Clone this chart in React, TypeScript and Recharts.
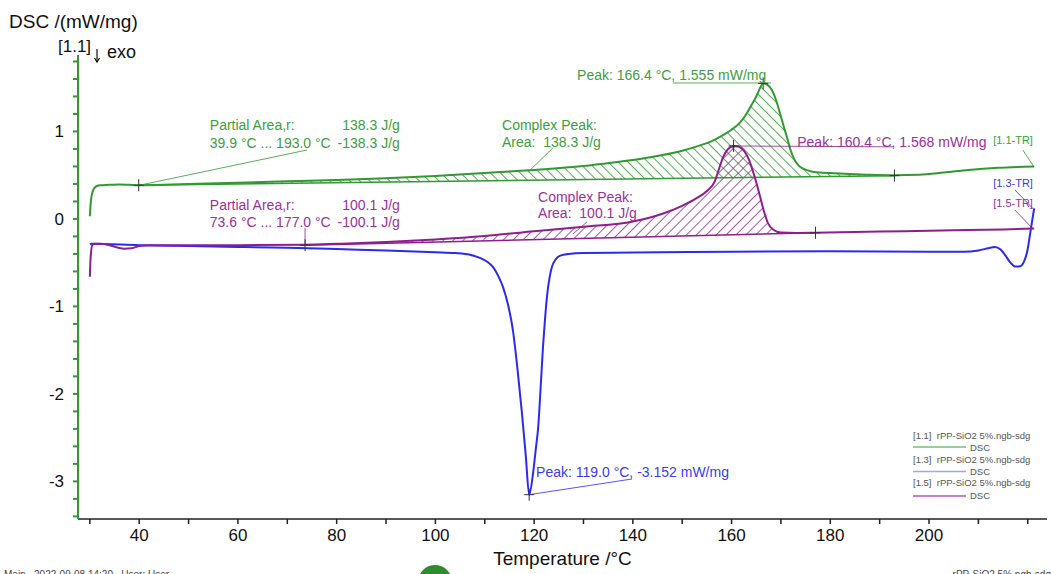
import {
  ComposedChart,
  Line,
  Area,
  XAxis,
  YAxis,
  ReferenceLine,
  ReferenceDot
} from "recharts";

const FONT = '"Liberation Sans", Arial, Helvetica, sans-serif';

const GREEN = "#2f9a2f";
const GREEN_TXT = "#3d9e3d";
const BLUE = "#2a2af0";
const BLUE_TXT = "#3b3bf0";
const PURPLE = "#8e1e8e";
const PURPLE_TXT = "#9c309c";

// [temperature °C, DSC mW/mg]
const greenCurve: [number, number][] = [
  [30.0, 0.03], [30.2, 0.2], [30.6, 0.32], [31.2, 0.37], [32, 0.385],
  [34, 0.39], [36, 0.395], [38, 0.39], [40, 0.385], [45, 0.39],
  [50, 0.4], [60, 0.415], [70, 0.43], [80, 0.445], [90, 0.465],
  [100, 0.49], [110, 0.525], [120, 0.56], [130, 0.605], [136, 0.645],
  [142, 0.69], [146, 0.73], [150, 0.78], [153, 0.83], [156, 0.89],
  [158, 0.95], [160, 1.02], [161.7, 1.1], [163, 1.2], [164, 1.3],
  [165, 1.4], [165.8, 1.5], [166.4, 1.55], [167.2, 1.535], [168.2, 1.47],
  [169, 1.36], [169.8, 1.21], [170.5, 1.07], [171.2, 0.94], [172, 0.78],
  [172.8, 0.67], [173.6, 0.61], [174.5, 0.575], [176, 0.545], [178, 0.53],
  [182, 0.52], [188, 0.505], [193, 0.5], [198, 0.505], [203, 0.53],
  [208, 0.56], [214, 0.585], [221.3, 0.6]
];

const purpleCurve: [number, number][] = [
  [30.0, -0.66], [30.15, -0.45], [30.5, -0.3], [31, -0.285], [32, -0.285],
  [34, -0.3], [35.5, -0.325], [37, -0.34], [38.5, -0.335], [40, -0.31],
  [42, -0.3], [50, -0.3], [60, -0.3], [73.6, -0.295], [80, -0.285],
  [90, -0.265], [100, -0.235], [110, -0.195], [120, -0.14], [130, -0.09],
  [140, -0.03], [146, 0.06], [150, 0.15], [153, 0.24], [155, 0.32],
  [156.6, 0.43], [157.5, 0.58], [158.3, 0.71], [159.3, 0.8], [160.4, 0.834],
  [161.5, 0.825], [162.5, 0.78], [163.5, 0.68], [164.3, 0.55], [165, 0.42],
  [165.8, 0.25], [166.6, 0.08], [167.4, -0.05], [168.4, -0.12], [170, -0.155],
  [173, -0.16], [177, -0.158], [185, -0.15], [195, -0.14], [205, -0.13],
  [215, -0.12], [221.3, -0.11]
];

const blueCurve: [number, number][] = [
  [30.0, -0.29], [30.3, -0.285], [40, -0.3], [50, -0.31], [60, -0.32],
  [70, -0.33], [80, -0.345], [90, -0.36], [100, -0.38], [104, -0.39],
  [107, -0.41], [109, -0.445], [110.5, -0.49], [111.7, -0.55], [112.8, -0.66],
  [113.7, -0.78], [114.8, -1.0], [115.7, -1.27], [116.6, -1.7], [117.5, -2.2],
  [118.3, -2.7], [119.0, -3.152], [119.8, -2.9], [120.4, -2.6], [120.8, -2.4],
  [121.3, -1.95], [121.8, -1.46], [122.2, -1.15], [122.6, -0.89], [123.1, -0.68],
  [123.6, -0.55], [124.4, -0.46], [125.3, -0.42], [127, -0.4], [130, -0.39],
  [140, -0.385], [160, -0.375], [180, -0.37], [200, -0.375], [207, -0.375],
  [210, -0.36], [212, -0.335], [213.3, -0.32], [214.5, -0.35], [215.5, -0.42],
  [216.5, -0.5], [217.5, -0.545], [218.5, -0.54], [219.3, -0.48], [219.9, -0.37],
  [220.4, -0.2], [220.9, -0.02], [221.3, 0.12]
];

// integration baselines (start, end)
const greenBase: [number, number][] = [[39.9, 0.385], [193.0, 0.495]];
const purpleBase: [number, number][] = [[73.6, -0.3], [177.0, -0.158]];

const peakMarks: [number, number][] = [[166.4, 1.55], [160.4, 0.834], [119.0, -3.152]];

const xTicks = [30, 40, 50, 60, 70, 80, 90, 100, 110, 120, 130, 140, 150, 160, 170, 180, 190, 200, 210, 220];
const xLabels = [40, 60, 80, 100, 120, 140, 160, 180, 200];
const yLabels = [-3, -2, -1, 0, 1];
const yTicks = Array.from({ length: 27 }, (_, i) => +(-3.4 + i * 0.2).toFixed(1));

const rows = (pts: [number, number][]) => pts.map(([t, v]) => ({ t, v }));

function hatchRows(curve: [number, number][], base: [number, number][]) {
  const [[t0, b0], [t1, b1]] = base;
  const lo = (t: number) => b0 + ((b1 - b0) * (t - t0)) / (t1 - t0);
  const inner = curve
    .filter(([t]) => t > t0 && t < t1)
    .map(([t, v]) => ({ t, range: [lo(t), Math.max(v, lo(t))] }));
  return [{ t: t0, range: [b0, b0] }, ...inner, { t: t1, range: [b1, b1] }];
}

type Note = {
  t: number;
  v: number;
  lines: string[];
  color: string;
  size?: number;
  anchor?: "start" | "end";
  lh?: number;
};

const notes: Note[] = [
  { t: 54.3, v: 1.017, lines: ["Partial Area,r:", "39.9 °C ... 193.0 °C"], color: GREEN_TXT, lh: 18 },
  { t: 92.8, v: 1.017, lines: ["138.3 J/g", "-138.3 J/g"], color: GREEN_TXT, anchor: "end", lh: 18 },
  { t: 113.5, v: 1.017, lines: ["Complex Peak:", "Area:  138.3 J/g"], color: GREEN_TXT, lh: 17 },
  { t: 128.7, v: 1.588, lines: ["Peak: 166.4 °C, 1.555 mW/mg"], color: GREEN_TXT },
  { t: 173.3, v: 0.822, lines: ["Peak: 160.4 °C, 1.568 mW/mg"], color: PURPLE_TXT },
  { t: 213.0, v: 0.857, lines: ["[1.1-TR]"], color: GREEN_TXT, size: 11 },
  { t: 54.3, v: 0.102, lines: ["Partial Area,r:", "73.6 °C ... 177.0 °C"], color: PURPLE_TXT, lh: 17 },
  { t: 92.8, v: 0.102, lines: ["100.1 J/g", "-100.1 J/g"], color: PURPLE_TXT, anchor: "end", lh: 17 },
  { t: 120.8, v: 0.194, lines: ["Complex Peak:", "Area:  100.1 J/g"], color: PURPLE_TXT, lh: 16 },
  { t: 120.4, v: -2.95, lines: ["Peak: 119.0 °C, -3.152 mW/mg"], color: BLUE_TXT },
  { t: 213.0, v: 0.365, lines: ["[1.3-TR]"], color: BLUE_TXT, size: 11 },
  { t: 213.0, v: 0.136, lines: ["[1.5-TR]"], color: PURPLE_TXT, size: 11 }
];

// leader lines [from, to, colour]
const leaders: [[number, number], [number, number], string][] = [
  [[40, 0.385], [74.0, 0.788], GREEN],
  [[118.8, 0.537], [123.8, 0.811], GREEN],
  [[148.1, 1.554], [168.0, 1.554], GREEN],
  [[219.0, 0.788], [221.2, 0.6], GREEN],
  [[160.4, 0.834], [192.7, 0.824], PURPLE],
  [[73.6, -0.3], [73.6, -0.104], PURPLE],
  [[130.7, -0.035], [127.9, -0.17], PURPLE],
  [[217.4, 0.331], [221.2, 0.11], BLUE],
  [[217.4, 0.102], [221.0, -0.11], PURPLE],
  [[119.0, -3.152], [139.8, -2.973], BLUE]
];

const Cross = (p: any) => (
  <g stroke="#333" strokeWidth={1}>
    <line x1={p.cx - 5} x2={p.cx + 5} y1={p.cy} y2={p.cy} />
    <line x1={p.cx} x2={p.cx} y1={p.cy - 6} y2={p.cy + 6} />
  </g>
);

const noteShape = (n: Note) => (p: any) => (
  <text
    x={p.cx}
    y={p.cy}
    fill={n.color}
    fontSize={n.size ?? 14}
    fontFamily={FONT}
    textAnchor={n.anchor ?? "start"}
    style={{ whiteSpace: "pre" }}
  >
    {n.lines.map((l, i) => (
      <tspan key={i} x={p.cx} dy={i === 0 ? 0 : n.lh ?? 17}>
        {l}
      </tspan>
    ))}
  </text>
);

const legendRows = [
  { label: "[1.1]  rPP-SiO2 5%.ngb-sdg", color: "#72c272" },
  { label: "[1.3]  rPP-SiO2 5%.ngb-sdg", color: "#a3a3f7" },
  { label: "[1.5]  rPP-SiO2 5%.ngb-sdg", color: "#b455b4" }
];

export default function App() {
  return (
    <div
      style={{
        position: "absolute",
        left: 0,
        top: 0,
        width: 1051,
        height: 574,
        overflow: "hidden",
        background: "#fff",
        fontFamily: FONT
      }}
    >
      <ComposedChart width={1051} height={574} margin={{ top: 55, right: 4, bottom: 0, left: 0 }}>
        <defs>
          <pattern id="hatchGreen" width="7" height="7" patternUnits="userSpaceOnUse" patternTransform="rotate(-45)">
            <line x1="0" y1="0" x2="0" y2="7" stroke={GREEN} strokeWidth="1.6" />
          </pattern>
          <pattern id="hatchPurple" width="7" height="7" patternUnits="userSpaceOnUse" patternTransform="rotate(45)">
            <line x1="0" y1="0" x2="0" y2="7" stroke={PURPLE} strokeWidth="1.5" />
          </pattern>
        </defs>
        <XAxis
          type="number"
          dataKey="t"
          domain={[27.6, 223.9]}
          allowDataOverflow
          ticks={xTicks}
          interval={0}
          tickFormatter={(v: number) => (xLabels.includes(v) ? String(v) : "")}
          height={55}
          stroke="#222"
          strokeWidth={1.5}
          tickSize={5}
          tickMargin={5}
          tick={{ fill: "#111", fontSize: 17, fontFamily: FONT }}
          label={{ value: "Temperature /°C", position: "insideBottom", offset: 9, fill: "#111", fontSize: 19, fontFamily: FONT }}
        />
        <YAxis
          type="number"
          domain={[-3.43, 1.874]}
          allowDataOverflow
          ticks={yTicks}
          interval={0}
          tickFormatter={(v: number) => (yLabels.includes(v) ? String(v) : "")}
          width={78}
          stroke={GREEN}
          strokeWidth={2}
          tickSize={5}
          tickMargin={9}
          tick={{ fill: "#111", fontSize: 17, fontFamily: FONT }}
        />
        <Area
          data={hatchRows(greenCurve, greenBase)}
          dataKey="range"
          type="monotone"
          stroke="none"
          fill="url(#hatchGreen)"
          fillOpacity={1}
          isAnimationActive={false}
        />
        <Area
          data={hatchRows(purpleCurve, purpleBase)}
          dataKey="range"
          type="monotone"
          stroke="none"
          fill="url(#hatchPurple)"
          fillOpacity={1}
          isAnimationActive={false}
        />
        <Line data={rows(greenBase)} dataKey="v" type="linear" stroke={GREEN} strokeWidth={1.5} dot={false} isAnimationActive={false} />
        <Line data={rows(purpleBase)} dataKey="v" type="linear" stroke={PURPLE} strokeWidth={1.5} dot={false} isAnimationActive={false} />
        <Line data={rows(blueCurve)} dataKey="v" type="monotone" stroke={BLUE} strokeWidth={2} dot={false} isAnimationActive={false} />
        <Line data={rows(greenCurve)} dataKey="v" type="monotone" stroke={GREEN} strokeWidth={2} dot={false} isAnimationActive={false} />
        <Line data={rows(purpleCurve)} dataKey="v" type="monotone" stroke={PURPLE} strokeWidth={2} dot={false} isAnimationActive={false} />
        {leaders.map(([a, b, c], i) => (
          <ReferenceLine
            key={"l" + i}
            segment={[{ x: a[0], y: a[1] }, { x: b[0], y: b[1] }]}
            stroke={c}
            strokeWidth={1}
            strokeOpacity={0.8}
          />
        ))}
        {[...greenBase, ...purpleBase, ...peakMarks].map(([t, v], i) => (
          <ReferenceDot key={"c" + i} x={t} y={v} r={0} shape={Cross} />
        ))}
        {notes.map((n, i) => (
          <ReferenceDot key={"n" + i} x={n.t} y={n.v} r={0} ifOverflow="visible" shape={noteShape(n)} />
        ))}
      </ComposedChart>

      <svg
        width={1051}
        height={574}
        style={{ position: "absolute", left: 0, top: 0, pointerEvents: "none" }}
        fontFamily={FONT}
      >
        <text x={9} y={28} fontSize={19} fill="#111">DSC /(mW/mg)</text>
        <text x={58} y={52} fontSize={17} fill="#111">[1.1]</text>
        <g stroke="#111" strokeWidth={1.2} fill="none">
          <line x1={97} y1={49} x2={97} y2={62} />
          <polyline points="94.5,58 97,62 99.5,58" />
        </g>
        <text x={107} y={58} fontSize={18} fill="#111">exo</text>

        {legendRows.map((r, i) => (
          <g key={i}>
            <text x={913} y={439 + i * 23.5} fontSize={9.5} fill="#555" style={{ whiteSpace: "pre" }}>
              {r.label}
            </text>
            <line x1={913} x2={966} y1={447 + i * 24.5} y2={447 + i * 24.5} stroke={r.color} strokeWidth={1.5} />
            <text x={970} y={451 + i * 24} fontSize={9.5} fill="#555">DSC</text>
          </g>
        ))}

        <text x={4} y={578} fontSize={10} fill="#444" style={{ whiteSpace: "pre" }}>
          Main   2022-09-08 14:20   User: User
        </text>
        <text x={1051} y={578} fontSize={10} fill="#444" textAnchor="end">
          rPP-SiO2 5% ngb-sdg
        </text>
        <circle cx={435} cy={582} r={17} fill="#2e8b2e" />
      </svg>
    </div>
  );
}
